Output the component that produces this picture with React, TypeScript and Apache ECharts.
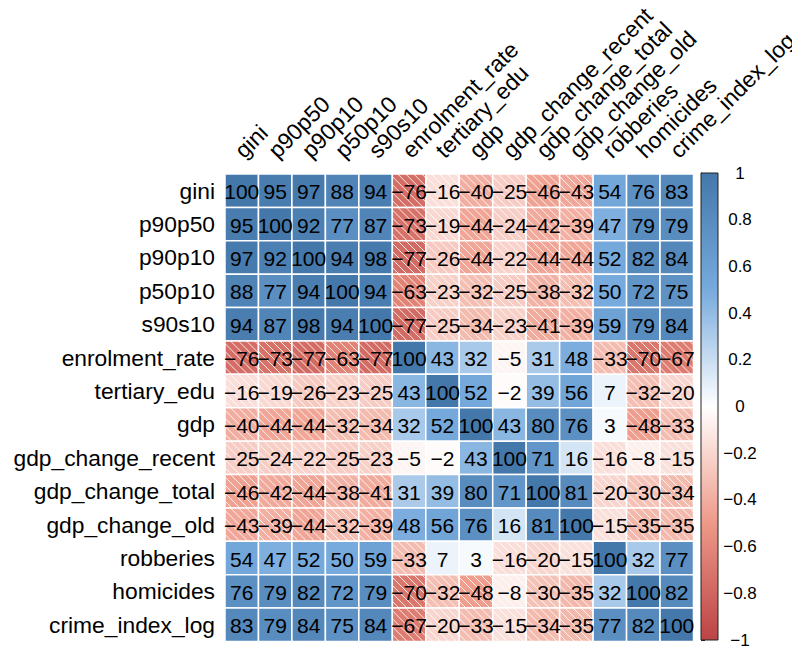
import React, { useEffect, useRef } from "react";
import * as echarts from "echarts";

const variables = [
  "gini", "p90p50", "p90p10", "p50p10", "s90s10", "enrolment_rate", "tertiary_edu",
  "gdp", "gdp_change_recent", "gdp_change_total", "gdp_change_old", "robberies",
  "homicides", "crime_index_log",
];

// correlation × 100, one row per variable (row order = variables)
const rowGini = [100, 95, 97, 88, 94, -76, -16, -40, -25, -46, -43, 54, 76, 83];
const rowP90p50 = [95, 100, 92, 77, 87, -73, -19, -44, -24, -42, -39, 47, 79, 79];
const rowP90p10 = [97, 92, 100, 94, 98, -77, -26, -44, -22, -44, -44, 52, 82, 84];
const rowP50p10 = [88, 77, 94, 100, 94, -63, -23, -32, -25, -38, -32, 50, 72, 75];
const rowS90s10 = [94, 87, 98, 94, 100, -77, -25, -34, -23, -41, -39, 59, 79, 84];
const rowEnrolment = [-76, -73, -77, -63, -77, 100, 43, 32, -5, 31, 48, -33, -70, -67];
const rowTertiary = [-16, -19, -26, -23, -25, 43, 100, 52, -2, 39, 56, 7, -32, -20];
const rowGdp = [-40, -44, -44, -32, -34, 32, 52, 100, 43, 80, 76, 3, -48, -33];
const rowGdpRecent = [-25, -24, -22, -25, -23, -5, -2, 43, 100, 71, 16, -16, -8, -15];
const rowGdpTotal = [-46, -42, -44, -38, -41, 31, 39, 80, 71, 100, 81, -20, -30, -34];
const rowGdpOld = [-43, -39, -44, -32, -39, 48, 56, 76, 16, 81, 100, -15, -35, -35];
const rowRobberies = [54, 47, 52, 50, 59, -33, 7, 3, -16, -20, -15, 100, 32, 77];
const rowHomicides = [76, 79, 82, 72, 79, -70, -32, -48, -8, -30, -35, 32, 100, 82];
const rowCrime = [83, 79, 84, 75, 84, -67, -20, -33, -15, -34, -35, 77, 82, 100];

const matrix = [
  rowGini, rowP90p50, rowP90p10, rowP50p10, rowS90s10, rowEnrolment, rowTertiary,
  rowGdp, rowGdpRecent, rowGdpTotal, rowGdpOld, rowRobberies, rowHomicides, rowCrime,
];

const colorbarTicks = [-1, -0.8, -0.6, -0.4, -0.2, 0, 0.2, 0.4, 0.6, 0.8, 1];

const palette = ["#BB4444", "#EE9988", "#FFFFFF", "#77AADD", "#4477AA"];
const FONT = '"Liberation Sans", Arial, Helvetica, sans-serif';

const fmtNum = (n: number) => (n < 0 ? "\u2212" + Math.abs(n) : String(n));

export default function App() {
  const ref = useRef<HTMLDivElement>(null);

  useEffect(() => {
    if (!ref.current) return;
    const chart = echarts.init(ref.current, undefined, { renderer: "svg" });

    const data: number[][] = [];
    matrix.forEach((row, i) => {
      row.forEach((v, j) => {
        data.push([j, i, v / 100]);
      });
    });

    const HATCH = 8;

    const cellItem = (params: any, api: any) => {
      const c = api.coord([api.value(0), api.value(1)]);
      const s = api.size([1, 1]);
      const w = s[0];
      const h = s[1];
      const x0 = c[0] - w / 2;
      const y0 = c[1] - h / 2;
      const v = api.value(2);
      const children: any[] = [
        {
          type: "rect",
          shape: { x: x0, y: y0, width: w, height: h },
          style: { fill: api.visual("color"), stroke: "#ffffff", lineWidth: 1.5 },
        },
      ];
      if (v < 0) {
        for (let d = -w + HATCH / 2; d < h; d += HATCH) {
          const xs = Math.max(x0, x0 - d);
          const xe = Math.min(x0 + w, x0 + h - d);
          if (xe - xs < 0.5) continue;
          children.push({
            type: "line",
            shape: {
              x1: xs, y1: y0 + (xs - x0) + d,
              x2: xe, y2: y0 + (xe - x0) + d,
            },
            style: { stroke: "rgba(255,255,255,0.85)", lineWidth: 1 },
          });
        }
      }
      return { type: "group", children };
    };

    const textItem = (params: any, api: any) => {
      const c = api.coord([api.value(0), api.value(1)]);
      const v = Math.round(api.value(2) * 100);
      return {
        type: "text",
        x: c[0],
        y: c[1] + 1,
        style: {
          text: fmtNum(v),
          fill: "#000",
          font: `21px ${FONT}`,
          align: "center",
          verticalAlign: "middle",
        },
      };
    };

    const barItem = (params: any, api: any) => {
      const a = api.coord([0, 1]);
      const b = api.coord([1, -1]);
      return {
        type: "rect",
        shape: { x: a[0], y: a[1], width: b[0] - a[0], height: b[1] - a[1] },
        style: {
          fill: new echarts.graphic.LinearGradient(0, 0, 0, 1, [
            { offset: 0, color: palette[4] },
            { offset: 0.25, color: palette[3] },
            { offset: 0.5, color: palette[2] },
            { offset: 0.75, color: palette[1] },
            { offset: 1, color: palette[0] },
          ]),
          stroke: "#222",
          lineWidth: 1,
        },
      };
    };

    chart.setOption({
      animation: false,
      backgroundColor: "#ffffff",
      grid: [
        { left: 225, top: 174, width: 468.5, height: 467.5, outerBoundsMode: "none", containLabel: false },
        { left: 701, top: 173, width: 17, height: 467, outerBoundsMode: "none", containLabel: false },
      ],
      xAxis: [
        {
          type: "category",
          gridIndex: 0,
          position: "top",
          data: variables,
          axisLine: { show: false },
          axisTick: { show: false },
          splitLine: { show: false },
          axisLabel: {
            rotate: -45,
            margin: 7,
            interval: 0,
            fontSize: 22.8,
            fontFamily: FONT,
            color: "#000",
            verticalAlign: "bottom",
            padding: [0, 0, 0, 7],
          },
        },
        { type: "value", gridIndex: 1, min: 0, max: 1, show: false },
      ],
      yAxis: [
        {
          type: "category",
          gridIndex: 0,
          inverse: true,
          data: variables,
          axisLine: { show: false },
          axisTick: { show: false },
          splitLine: { show: false },
          axisLabel: {
            margin: 10,
            interval: 0,
            fontSize: 22.8,
            fontFamily: FONT,
            color: "#000",
          },
        },
        {
          type: "value",
          gridIndex: 1,
          position: "right",
          min: colorbarTicks[0],
          max: colorbarTicks[colorbarTicks.length - 1],
          interval: 0.2,
          splitLine: { show: false },
          axisLine: { show: true, lineStyle: { color: "#222", width: 1 } },
          axisTick: { show: true, length: 4, lineStyle: { color: "#222" } },
          axisLabel: {
            margin: 22,
            align: "center",
            fontSize: 17,
            fontFamily: FONT,
            color: "#000",
            formatter: (v: number) => {
              const r = Math.round(v * 10) / 10;
              return r < 0 ? "\u2212" + Math.abs(r) : String(r);
            },
          },
        },
      ],
      visualMap: {
        type: "continuous",
        show: false,
        min: -1,
        max: 1,
        dimension: 2,
        seriesIndex: 0,
        inRange: { color: palette },
      },
      series: [
        {
          type: "custom",
          xAxisIndex: 0,
          yAxisIndex: 0,
          renderItem: cellItem,
          data,
          z: 1,
        },
        {
          type: "custom",
          xAxisIndex: 0,
          yAxisIndex: 0,
          renderItem: textItem,
          data,
          z: 3,
          silent: true,
        },
        {
          type: "custom",
          xAxisIndex: 1,
          yAxisIndex: 1,
          renderItem: barItem,
          data: [[0, 0]],
          z: 1,
        },
      ],
    });

    return () => chart.dispose();
  }, []);

  return (
    <div
      ref={ref}
      style={{ position: "fixed", left: 0, top: 0, width: 792, height: 650 }}
    />
  );
}
